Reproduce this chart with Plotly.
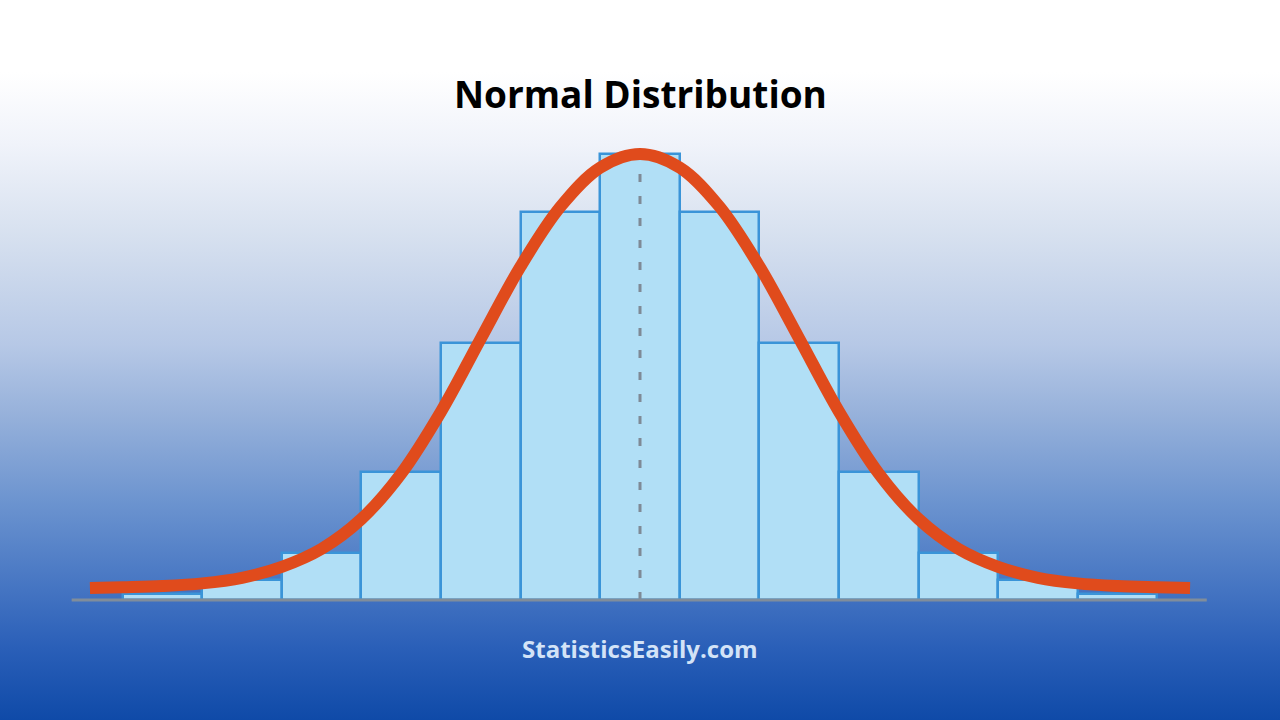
import base64
import plotly.graph_objects as go

# histogram bins (bin index, centred on the mean) and bar heights
bin_centers = [-6, -5, -4, -3, -2, -1, 0, 1, 2, 3, 4, 5, 6]
bin_heights = [1.5, 5, 11.75, 32, 64.25, 97, 111.5, 97, 64.25, 32, 11.75, 5, 1.5]

# fitted curve
curve_x = [-6.91, -6.5, -6.0, -5.5, -5.0, -4.5, -4.0, -3.5, -3.0, -2.5, -2.0,
           -1.5, -1.0, -0.5, 0.0, 0.5, 1.0, 1.5,
           2.0, 2.5, 3.0, 3.5, 4.0, 4.5, 5.0, 5.5, 6.0, 6.5, 6.91]
curve_y = [3.0, 3.2, 3.5, 4.15, 5.55, 8.3, 12.8, 20.25, 31.6, 47.1, 65.35,
           83.4, 98.3, 108.1, 111.5, 108.1, 98.3, 83.4,
           65.35, 47.1, 31.6, 20.25, 12.8, 8.3, 5.55, 4.15, 3.5, 3.2, 3.0]

mean_x = 0
title_text = "Normal Distribution"
site_text = "StatisticsEasily.com"

# ── background: vertical white → blue gradient as an svg image ──
svg = """<svg xmlns='http://www.w3.org/2000/svg' width='10' height='100' preserveAspectRatio='none'>
<defs><linearGradient id='g' x1='0' y1='0' x2='0' y2='1'>
<stop offset='0' stop-color='#ffffff'/>
<stop offset='0.10' stop-color='#ffffff'/>
<stop offset='0.20' stop-color='#f0f3fa'/>
<stop offset='0.33' stop-color='#d6e0ef'/>
<stop offset='0.48' stop-color='#b6c8e6'/>
<stop offset='0.58' stop-color='#95b0da'/>
<stop offset='0.70' stop-color='#6b93cf'/>
<stop offset='0.82' stop-color='#4474c2'/>
<stop offset='0.90' stop-color='#2a5fb8'/>
<stop offset='1' stop-color='#0f4aa8'/>
</linearGradient></defs>
<rect width='10' height='100' fill='url(#g)'/></svg>"""
bg_src = "data:image/svg+xml;base64," + base64.b64encode(svg.encode()).decode()

fig = go.Figure()

# bars
fig.add_trace(go.Bar(
    x=bin_centers, y=bin_heights, width=1,
    marker=dict(color="#b1dff6", line=dict(color="#3a94d8", width=2.5)),
    showlegend=False, hoverinfo="skip"))

# mean line (dashed)
fig.add_shape(type="line", x0=mean_x, x1=mean_x, y0=0, y1=108,
              line=dict(color="#7f8a96", width=3, dash="8px,14px"), layer="above")

# baseline
fig.add_shape(type="line", x0=-7.14, x1=7.12, y0=0, y1=0,
              line=dict(color="#808d9b", width=3), layer="above")

# normal curve
fig.add_trace(go.Scatter(
    x=curve_x, y=curve_y, mode="lines",
    line=dict(color="#e04b1c", width=12, shape="spline", smoothing=1.0),
    showlegend=False, hoverinfo="skip"))

fig.update_layout(
    width=1280, height=720,
    margin=dict(l=0, r=0, t=0, b=0),
    paper_bgcolor="white", plot_bgcolor="rgba(0,0,0,0)",
    bargap=0,
    xaxis=dict(range=[-8.04, 8.04], visible=False, fixedrange=True),
    yaxis=dict(range=[-30, 150], visible=False, fixedrange=True),
    images=[dict(source=bg_src, xref="paper", yref="paper", x=0, y=1,
                 sizex=1, sizey=1, sizing="stretch", layer="below",
                 xanchor="left", yanchor="top")],
    annotations=[
        dict(text=title_text, xref="paper", yref="paper", x=0.5, y=1 - 94 / 720,
             showarrow=False, xanchor="center", yanchor="middle",
             font=dict(family="Open Sans", size=37, color="#000000", weight=700)),
        dict(text=site_text, xref="paper", yref="paper", x=0.5, y=1 - 648 / 720,
             showarrow=False, xanchor="center", yanchor="middle",
             font=dict(family="Open Sans", size=24, color="#d3e3f7", weight=700)),
    ],
)

fig.write_html("out.html", config={"displayModeBar": False},
               post_script="document.body.style.margin='0';")
